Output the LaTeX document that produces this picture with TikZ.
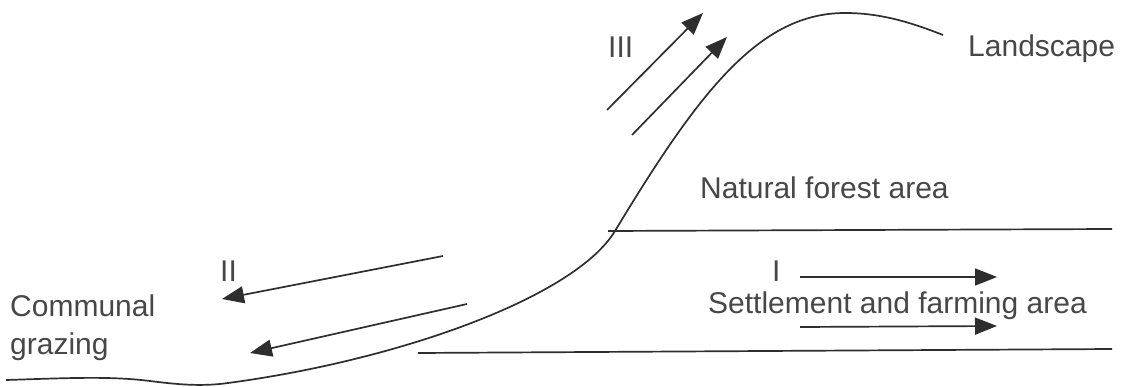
\documentclass[tikz,border=0pt]{standalone}
\usepackage{fontspec}
\setmainfont{Liberation Sans}
\usetikzlibrary{arrows.meta}
\tikzset{
  ln/.style={line width=1.7pt, color=black!82},
  arr/.style={line width=1.7pt, color=black!82, -{Triangle[length=22pt,width=17pt]}},
  lbl/.style={inner sep=0pt, font=\fontsize{30}{35}\selectfont, text=black!72},
}
\begin{document}
\begin{tikzpicture}[x=1pt,y=-1pt]
\useasboundingbox (0,0) rectangle (1134,387);
% main landscape curve
\coordinate (c0) at (6,380);
\coordinate (c1) at (150,381);
\coordinate (c2) at (228,383);
\coordinate (c3) at (615,231);
\coordinate (c4) at (845,13);
\coordinate (c5) at (943,35);
\draw[ln] (c0) .. controls (70,378) and (110,376) .. (c1)
  .. controls (174,384) and (200,387) .. (c2)
  .. controls (400,360) and (575,297) .. (c3)
  .. controls (700,90) and (760,13) .. (c4)
  .. controls (880,13) and (910,22) .. (c5);
% horizontal lines
\coordinate (u1) at (608,231); \coordinate (u2) at (1112,229);
\coordinate (b1) at (418,353); \coordinate (b2) at (1112,349);
\draw[ln] (u1) -- (u2);
\draw[ln] (b1) -- (b2);
% arrows III
\coordinate (a3s) at (607,110); \coordinate (a3e) at (703,13);
\coordinate (b3s) at (632,135); \coordinate (b3e) at (727,37);
\draw[arr] (a3s) -- (a3e);
\draw[arr] (b3s) -- (b3e);
% arrows II
\coordinate (a2s) at (443,256); \coordinate (a2e) at (222,299);
\coordinate (b2s) at (467,304); \coordinate (b2e) at (250,353);
\draw[arr] (a2s) -- (a2e);
\draw[arr] (b2s) -- (b2e);
% arrows I
\coordinate (a1s) at (800,277); \coordinate (a1e) at (997,277);
\coordinate (b1s) at (800,327); \coordinate (b1e) at (997,326);
\draw[arr] (a1s) -- (a1e);
\draw[arr] (b1s) -- (b1e);
% labels
\node[lbl, anchor=base west] (land) at (968,57) {Landscape};
\node[lbl, anchor=base west] (forest) at (700,199) {Natural forest area};
\node[lbl, anchor=base west] (settle) at (708,313) {Settlement and farming area};
\node[lbl, anchor=base west] (comm) at (10,316) {Communal};
\node[lbl, anchor=base west] (graz) at (10,354) {grazing};
\node[lbl, anchor=base west] (III) at (608,58) {III};
\node[lbl, anchor=base west] (II) at (220,281) {II};
\node[lbl, anchor=base west] (I) at (772,281) {I};
\end{tikzpicture}
\end{document}
